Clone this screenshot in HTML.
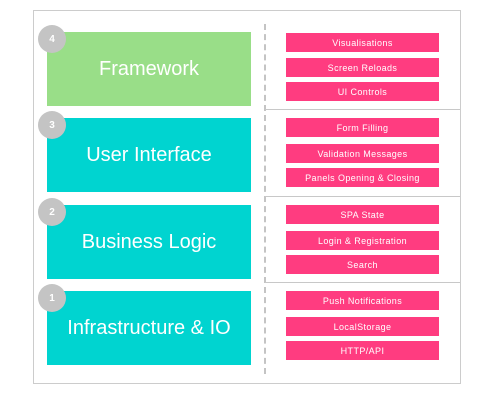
<!DOCTYPE html>
<html><head><style>
body{margin:0;width:487px;height:402px;background:#fff;position:relative;font-family:"Liberation Sans",sans-serif;overflow:hidden}
.a{position:absolute}
.L{position:absolute;left:47px;width:204px;height:74px;color:#fff;font-size:20px;display:flex;align-items:center;justify-content:center;background:#00d4d0}
.c{position:absolute;left:38px;width:28px;height:28px;border-radius:50%;background:#c4c4c4;color:#fff;font-size:10px;font-weight:bold;display:flex;align-items:center;justify-content:center}
.p{position:absolute;left:286px;width:153px;height:19px;background:#ff3c80;color:#fff;font-size:9px;letter-spacing:0.4px;display:flex;align-items:center;justify-content:center}
.h{position:absolute;left:265px;width:195px;height:1px;background:#c8c8c8}
</style></head><body>
<div class="a" style="left:33px;top:10px;width:426px;height:372px;border:1px solid #ccc"></div>
<div class="a" style="left:264px;top:24px;height:350px;border-left:2px dashed #c4c4c4"></div>
<div class="h" style="top:109px"></div>
<div class="h" style="top:196px"></div>
<div class="h" style="top:282px"></div>
<div class="L" style="top:32px;background:#99de88">Framework</div>
<div class="L" style="top:118px">User Interface</div>
<div class="L" style="top:205px">Business Logic</div>
<div class="L" style="top:291px">Infrastructure &amp; IO</div>
<div class="c" style="top:25px">4</div>
<div class="c" style="top:111px">3</div>
<div class="c" style="top:198px">2</div>
<div class="c" style="top:284px">1</div>
<div class="p" style="top:33px">Visualisations</div>
<div class="p" style="top:58px">Screen Reloads</div>
<div class="p" style="top:82px">UI Controls</div>
<div class="p" style="top:118px">Form Filling</div>
<div class="p" style="top:144px">Validation Messages</div>
<div class="p" style="top:168px">Panels Opening &amp; Closing</div>
<div class="p" style="top:205px">SPA State</div>
<div class="p" style="top:231px">Login &amp; Registration</div>
<div class="p" style="top:255px">Search</div>
<div class="p" style="top:291px">Push Notifications</div>
<div class="p" style="top:317px">LocalStorage</div>
<div class="p" style="top:341px">HTTP/API</div>
</body></html>
